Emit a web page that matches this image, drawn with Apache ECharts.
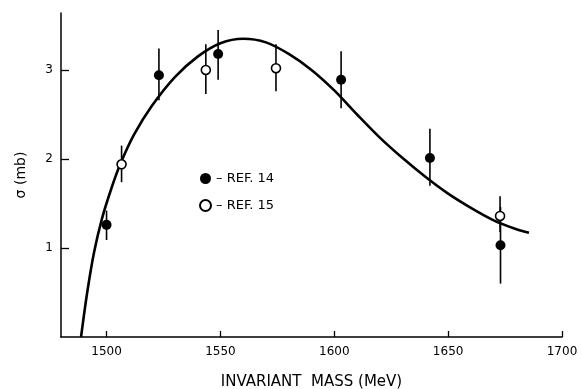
<!DOCTYPE html>
<html>
<head>
<meta charset="utf-8">
<script src="https://cdn.jsdelivr.net/npm/echarts@6/dist/echarts.min.js"></script>
<style>
  html, body { margin: 0; padding: 0; background: #fff; }
  #chart { width: 582px; height: 389px; }
</style>
</head>
<body>
<div id="chart"></div>
<script>
// fitted curve
const curveMass = [1488.8, 1491.5, 1494.5, 1498, 1502, 1506, 1512, 1520, 1530, 1540, 1550, 1560, 1570, 1580, 1590, 1600, 1610, 1620, 1630, 1640, 1650, 1660, 1670, 1680, 1685.5];
const curveSigma = [0, 0.5, 0.95, 1.33, 1.66, 1.94, 2.27, 2.6, 2.92, 3.15, 3.3, 3.35, 3.31, 3.18, 3.0, 2.77, 2.5, 2.24, 2.01, 1.8, 1.61, 1.45, 1.31, 1.21, 1.17];

// REF. 14 (filled)
const ref14Mass = [1500, 1523, 1549, 1603, 1642, 1673];
const ref14Sigma = [1.26, 2.94, 3.18, 2.89, 2.01, 1.03];
const ref14Low = [1.09, 2.66, 2.89, 2.57, 1.70, 0.60];
const ref14High = [1.42, 3.24, 3.45, 3.21, 2.34, 1.46];

// REF. 15 (open)
const ref15Mass = [1506.6, 1543.6, 1574.4, 1672.8];
const ref15Sigma = [1.94, 3.0, 3.02, 1.36];
const ref15Low = [1.74, 2.73, 2.76, 1.18];
const ref15High = [2.15, 3.29, 3.29, 1.58];

const xTicks = [1500, 1550, 1600, 1650, 1700];
const yTicks = [1, 2, 3];

const ink = "#000";
const font = "DejaVu Sans";

const zip = (a, b) => a.map((v, i) => [v, b[i]]);
const bars = [
  ...ref14Mass.map((m, i) => [m, ref14Low[i], ref14High[i]]),
  ...ref15Mass.map((m, i) => [m, ref15Low[i], ref15High[i]]),
];

const chart = echarts.init(document.getElementById("chart"));
chart.setOption({
  animation: false,
  backgroundColor: "#fff",
  grid: { left: 61, right: 20, top: 13, bottom: 52, outerBoundsMode: "none" },
  legend: {
    data: ["REF. 14", "REF. 15"],
    orient: "vertical",
    left: 194,
    top: 167,
    itemWidth: 11,
    itemHeight: 11,
    itemGap: 14,
    formatter: "– {name}",
    textStyle: { fontFamily: font, fontSize: 13, color: ink },
  },
  xAxis: {
    type: "value",
    min: 1480,
    max: 1700,
    name: "INVARIANT  MASS (MeV)",
    nameLocation: "middle",
    nameGap: 38,
    nameTextStyle: { fontFamily: font, fontSize: 15, color: ink },
    splitLine: { show: false },
    axisLine: { lineStyle: { color: ink, width: 1.5 } },
    axisTick: { inside: true, length: 6, customValues: xTicks, lineStyle: { color: ink, width: 1.3 } },
    axisLabel: { customValues: xTicks, formatter: (v) => String(v), margin: 9, fontFamily: font, fontSize: 12, color: ink },
  },
  yAxis: {
    type: "value",
    min: 0,
    max: 3.64,
    name: "σ (mb)",
    nameLocation: "middle",
    nameGap: 33,
    nameTextStyle: { fontFamily: font, fontSize: 14, color: ink },
    splitLine: { show: false },
    axisLine: { show: true, lineStyle: { color: ink, width: 1.5 } },
    axisTick: { show: true, inside: true, length: 8, customValues: yTicks, lineStyle: { color: ink, width: 1.3 } },
    axisLabel: { customValues: yTicks, margin: 8, fontFamily: font, fontSize: 12, color: ink },
  },
  series: [
    {
      name: "fit",
      type: "line",
      data: zip(curveMass, curveSigma),
      smooth: 0.3,
      showSymbol: false,
      lineStyle: { color: ink, width: 2.6 },
      z: 2,
    },
    {
      name: "errors",
      type: "custom",
      data: bars,
      renderItem: (params, api) => {
        const lo = api.coord([api.value(0), api.value(1)]);
        const hi = api.coord([api.value(0), api.value(2)]);
        return {
          type: "line",
          shape: { x1: lo[0], y1: lo[1], x2: hi[0], y2: hi[1] },
          style: { stroke: ink, lineWidth: 1.6 },
        };
      },
      encode: { x: 0, y: [1, 2] },
      z: 3,
    },
    {
      name: "REF. 14",
      type: "scatter",
      data: zip(ref14Mass, ref14Sigma),
      symbol: "circle",
      symbolSize: 10,
      itemStyle: { color: ink, opacity: 1 },
      z: 4,
    },
    {
      name: "REF. 15",
      type: "scatter",
      data: zip(ref15Mass, ref15Sigma),
      symbol: "circle",
      symbolSize: 9,
      itemStyle: { color: "#fff", borderColor: ink, borderWidth: 1.6, opacity: 1 },
      z: 4,
    },
  ],
});
</script>
</body>
</html>
